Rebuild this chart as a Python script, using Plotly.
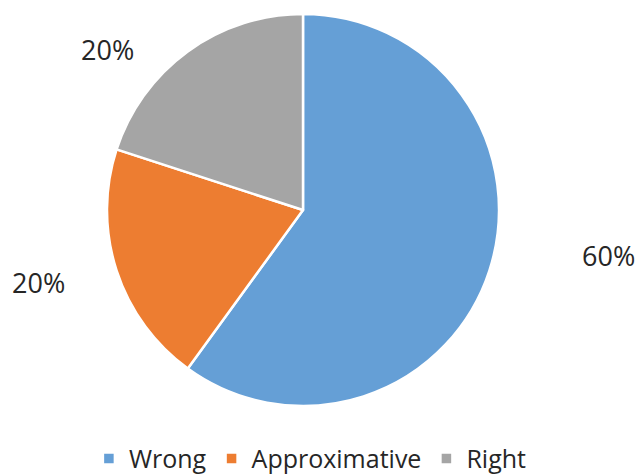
import plotly.graph_objects as go

categories = ["Wrong", "Approximative", "Right"]
shares = [60, 20, 20]
colors = ["#659fd6", "#ed7d31", "#a5a5a5"]

# label anchor points (paper coords) for the outside percentage labels
label_x = [0.95, 0.06, 0.168]
label_y = [0.463, 0.405, 0.895]

W, H = 640, 475
cx, cy, r = 303, 210, 196

fig = go.Figure(
    go.Pie(
        labels=categories,
        values=shares,
        sort=False,
        direction="clockwise",
        rotation=0,
        marker=dict(colors=colors, line=dict(color="white", width=2.5)),
        textinfo="none",
        hoverinfo="label+percent",
        domain=dict(
            x=[(cx - r) / W, (cx + r) / W],
            y=[(H - cy - r) / H, (H - cy + r) / H],
        ),
    )
)

total = sum(shares)
for v, lx, ly in zip(shares, label_x, label_y):
    fig.add_annotation(
        x=lx, y=ly, xref="paper", yref="paper",
        xanchor="center", yanchor="middle",
        text=f"{round(100 * v / total)}%",
        showarrow=False,
        font=dict(family="Open Sans", size=27, color="#262626"),
    )

fig.update_layout(
    width=W,
    height=H,
    margin=dict(l=0, r=0, t=0, b=0, autoexpand=False),
    paper_bgcolor="white",
    plot_bgcolor="white",
    showlegend=True,
    legend=dict(
        orientation="h",
        x=0.485,
        xanchor="center",
        y=-0.014,
        yanchor="bottom",
        font=dict(family="Open Sans", size=25, color="#262626"),
        itemwidth=30,
        tracegroupgap=0,
    ),
)

fig.write_html("out.html")
